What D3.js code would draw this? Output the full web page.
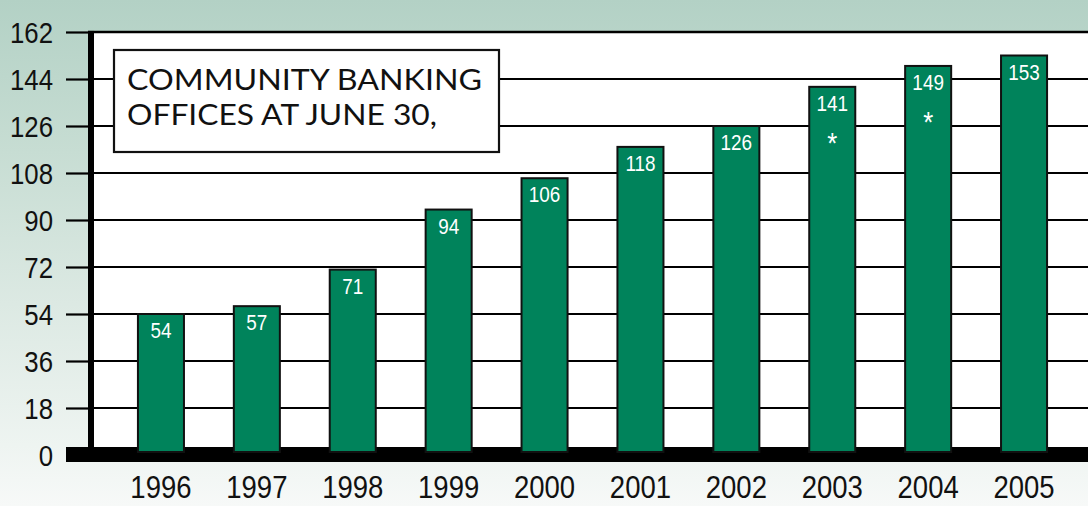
<!DOCTYPE html>
<html>
<head>
<meta charset="utf-8">
<script src="https://cdn.jsdelivr.net/npm/d3@7"></script>
<style>
  html, body { margin: 0; padding: 0; background: #ffffff; }
  svg { display: block; }
  .tick-label { font-family: "Liberation Sans", Arial, sans-serif; fill: #111; }
  .bar-label { font-family: "Liberation Sans", Arial, sans-serif; fill: #ffffff; }
  .title { font-family: Lato, "Noto Sans", sans-serif; fill: #111; }
</style>
</head>
<body>
<svg id="chart" width="1088" height="506"></svg>
<script>
// Community banking offices at June 30, by year
const years = ["1996", "1997", "1998", "1999", "2000", "2001", "2002", "2003", "2004", "2005"];
const offices = [54, 57, 71, 94, 106, 118, 126, 141, 149, 153];
const starred = ["2003", "2004"];
const yTicks = [0, 18, 36, 54, 72, 90, 108, 126, 144, 162];
const titleLines = ["COMMUNITY BANKING", "OFFICES AT JUNE 30,"];

const W = 1088, H = 506;
const plot = { left: 94, right: 1088, top: 32, bottom: 455 };
const narrow = 0.86; // horizontal squeeze for a condensed look

const svg = d3.select("#chart");

// soft green-to-white page background
const defs = svg.append("defs");
const grad = defs.append("linearGradient")
  .attr("id", "bg").attr("x1", 0).attr("y1", 0).attr("x2", 0).attr("y2", 1);
[[0, "#b3d1c5"], [0.3, "#c7ddd3"], [0.6, "#dce9e3"], [0.88, "#eef4f1"], [1, "#f7f9f8"]]
  .forEach(([o, c]) => grad.append("stop").attr("offset", o).attr("stop-color", c));
svg.append("rect").attr("width", W).attr("height", H).attr("fill", "url(#bg)");

const y = d3.scaleLinear().domain([0, 162]).range([plot.bottom, plot.top]);
const x = d3.scaleBand().domain(years).range([113, 1072]).paddingInner(0.52).paddingOuter(0.26);

// draws condensed text anchored at (cx, cy)
function narrowText(sel, cx, cy) {
  sel.attr("x", 0).attr("y", 0)
    .attr("transform", (d, i) => `translate(${cx(d, i)},${cy(d, i)}) scale(${narrow},1)`);
}

// white plotting panel
svg.append("rect")
  .attr("x", plot.left).attr("y", y(162))
  .attr("width", plot.right - plot.left).attr("height", y(0) - y(162))
  .attr("fill", "#ffffff");

// y axis: outward ticks plus gridlines across the panel
const yAxis = d3.axisLeft(y).tickValues(yTicks).tickSize(24).tickPadding(12).tickFormat(d3.format("d"));
const gy = svg.append("g").attr("transform", `translate(90,0)`).call(yAxis);
gy.select(".domain").remove();
gy.selectAll(".tick line").attr("stroke", "#000").attr("stroke-width", 2.2);
gy.selectAll(".tick text").attr("class", "tick-label").attr("font-size", 30).attr("dy", "0.36em")
  .attr("x", 0).attr("transform", `translate(-37,0) scale(${narrow},1)`);

svg.append("g").selectAll("line").data(yTicks.filter(d => d > 0)).join("line")
  .attr("x1", plot.left).attr("x2", plot.right)
  .attr("y1", d => y(d)).attr("y2", d => y(d))
  .attr("stroke", "#000").attr("stroke-width", d => d === 162 ? 2.6 : 2.2);

// vertical axis bar
svg.append("rect").attr("x", 88).attr("y", y(162) - 1.3).attr("width", 6).attr("height", y(0) - y(162))
  .attr("fill", "#000");

// heavy baseline
svg.append("rect").attr("x", 66).attr("y", y(0) - 8).attr("width", plot.right - 66).attr("height", 15)
  .attr("fill", "#000");

// bars
svg.append("g").selectAll("rect").data(years).join("rect")
  .attr("x", d => x(d)).attr("width", x.bandwidth())
  .attr("y", (d, i) => y(offices[i]))
  .attr("height", (d, i) => y(0) - 3 - y(offices[i]))
  .attr("fill", "#00835b").attr("stroke", "#111").attr("stroke-width", 2);

// value labels
svg.append("g").selectAll("text").data(years).join("text")
  .attr("class", "bar-label")
  .attr("text-anchor", "middle").attr("font-size", 22)
  .call(narrowText, d => x(d) + x.bandwidth() / 2, (d, i) => y(offices[i]) + 24)
  .text((d, i) => offices[i]);

// asterisks for flagged years
svg.append("g").selectAll("text").data(years.filter(d => starred.includes(d))).join("text")
  .attr("class", "bar-label")
  .attr("text-anchor", "middle").attr("font-size", 30)
  .call(narrowText, d => x(d) + x.bandwidth() / 2, d => y(offices[years.indexOf(d)]) + 66)
  .text("*");

// year labels
const xAxis = d3.axisBottom(x).tickSize(0).tickPadding(0);
const gx = svg.append("g").attr("transform", `translate(0,${y(0)})`).call(xAxis);
gx.select(".domain").remove();
gx.selectAll(".tick text").attr("class", "tick-label").attr("font-size", 32)
  .attr("y", 0).attr("dy", 0).attr("transform", `translate(0,43) scale(${narrow},1)`);

// title box
const tb = svg.append("g");
tb.append("rect").attr("x", 114).attr("y", 50).attr("width", 385).attr("height", 102)
  .attr("fill", "#ffffff").attr("stroke", "#111").attr("stroke-width", 2.2);
tb.selectAll("text").data(titleLines).join("text")
  .attr("class", "title")
  .attr("x", 127).attr("y", (d, i) => 90 + i * 35)
  .attr("font-size", 28)
  .attr("textLength", (d, i) => i === 0 ? 355 : 310)
  .attr("lengthAdjust", "spacingAndGlyphs")
  .text(d => d);
</script>
</body>
</html>
